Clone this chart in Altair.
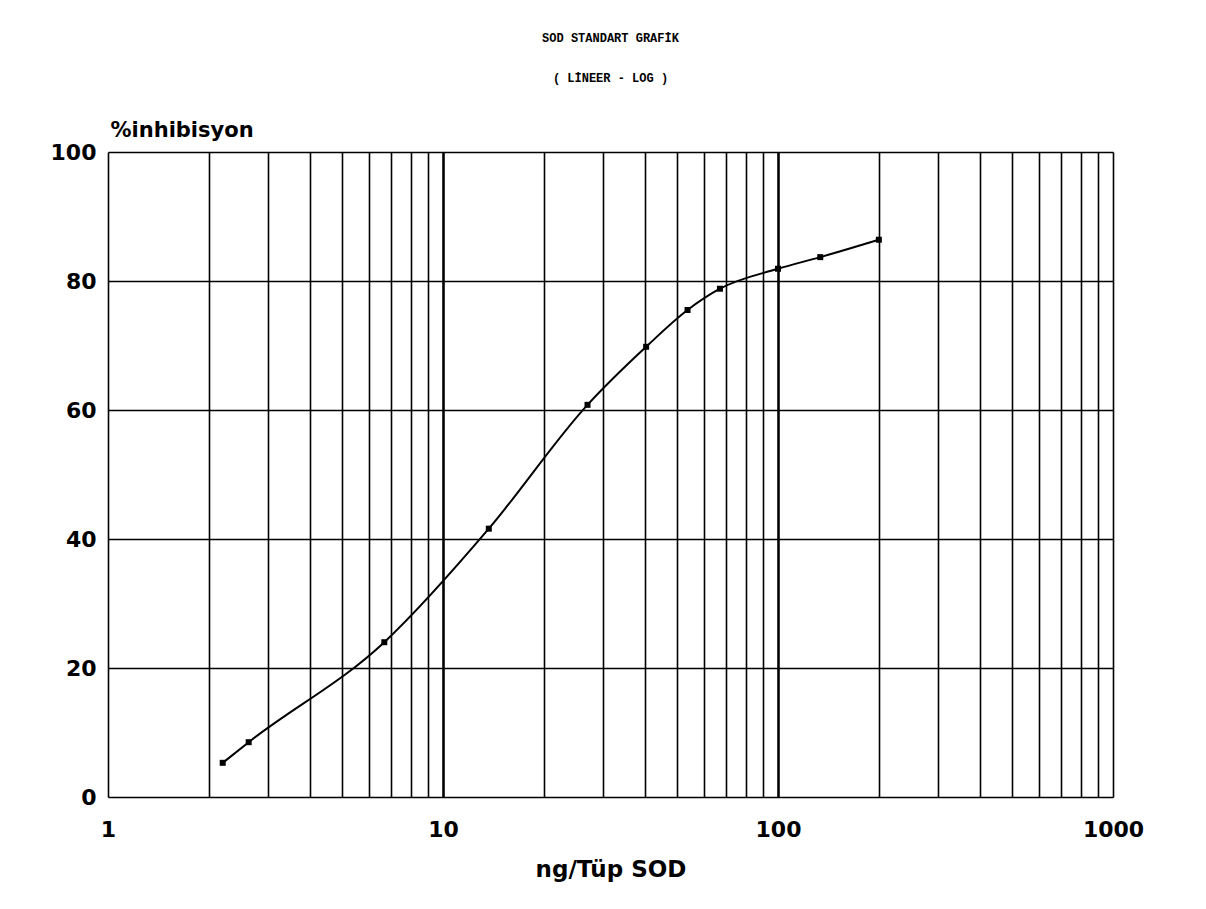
import altair as alt
import pandas as pd

# Data
sod_ng = [2.2, 2.63, 6.68, 13.7, 27.0, 40.4, 53.7, 67.1, 100, 133.7, 200]
inhibition = [5.3, 8.5, 24.0, 41.6, 60.8, 69.8, 75.5, 78.8, 81.9, 83.7, 86.4]

x_grid_values = [1, 2, 3, 4, 5, 6, 7, 8, 9,
                 10, 20, 30, 40, 50, 60, 70, 80, 90,
                 100, 200, 300, 400, 500, 600, 700, 800, 900, 1000]
x_label_values = [1, 10, 100, 1000]
y_values = [0, 20, 40, 60, 80, 100]

df = pd.DataFrame({"sod": sod_ng, "inh": inhibition})

label_test = " || ".join(f"datum.value == {v}" for v in x_label_values)
FONT = "DejaVu Sans"

x_enc = alt.X(
    "sod:Q",
    scale=alt.Scale(type="log", domain=[1, 1000], nice=False),
    axis=alt.Axis(
        values=x_grid_values,
        format="d",
        labelExpr=f"({label_test}) ? datum.label : ''",
        labelOverlap=False,
        labelFlush=False,
        ticks=False,
        domain=False,
        grid=True,
        gridColor="black",
        gridOpacity=1,
        gridWidth={"condition": {"test": "datum.value == 10 || datum.value == 100", "value": 2.6}, "value": 1.6},
        labelFont=FONT,
        labelFontWeight="bold",
        labelFontSize=22,
        labelColor="black",
        labelPadding=22,
        title="ng/Tüp SOD",
        titleFont=FONT,
        titleFontWeight="bold",
        titleFontSize=23,
        titleColor="black",
        titlePadding=18,
    ),
)

y_enc = alt.Y(
    "inh:Q",
    scale=alt.Scale(domain=[0, 100], nice=False),
    axis=alt.Axis(
        values=y_values,
        ticks=False,
        domain=False,
        grid=True,
        gridColor="black",
        gridOpacity=1,
        gridWidth=1.3,
        labelFont=FONT,
        labelFontWeight="bold",
        labelFontSize=22,
        labelColor="black",
        labelPadding=12,
        title="%inhibisyon",
        titleFont=FONT,
        titleFontWeight="bold",
        titleFontSize=21,
        titleColor="black",
        titleAngle=0,
        titleAlign="left",
        titleBaseline="bottom",
        titleX=2,
        titleY=-12,
    ),
)

base = alt.Chart(df)

line = base.mark_line(color="black", strokeWidth=2, interpolate="monotone").encode(x=x_enc, y=y_enc)
pts = base.mark_point(shape="square", filled=True, color="black", size=36, opacity=1).encode(
    x=alt.X("sod:Q"), y=alt.Y("inh:Q")
)

chart = (
    alt.layer(line, pts)
    .properties(
        width=1005,
        height=645,
        autosize=alt.AutoSizeParams(type="none"),
        padding={"left": 100, "top": 144, "right": 85, "bottom": 100},
        title=alt.TitleParams(
            text="SOD STANDART GRAFİK",
            subtitle="( LİNEER - LOG )",
            font="Liberation Mono",
            fontSize=12,
            fontWeight="bold",
            color="black",
            subtitleFont="Liberation Mono",
            subtitleFontSize=12,
            subtitleFontWeight="bold",
            subtitleColor="black",
            subtitlePadding=28,
            anchor="middle",
            offset=34,
        ),
    )
    .configure_view(stroke="black", strokeWidth=2)
    .configure(background="white")
)

chart.save("out.html", embed_options={"renderer": "svg", "actions": False})
